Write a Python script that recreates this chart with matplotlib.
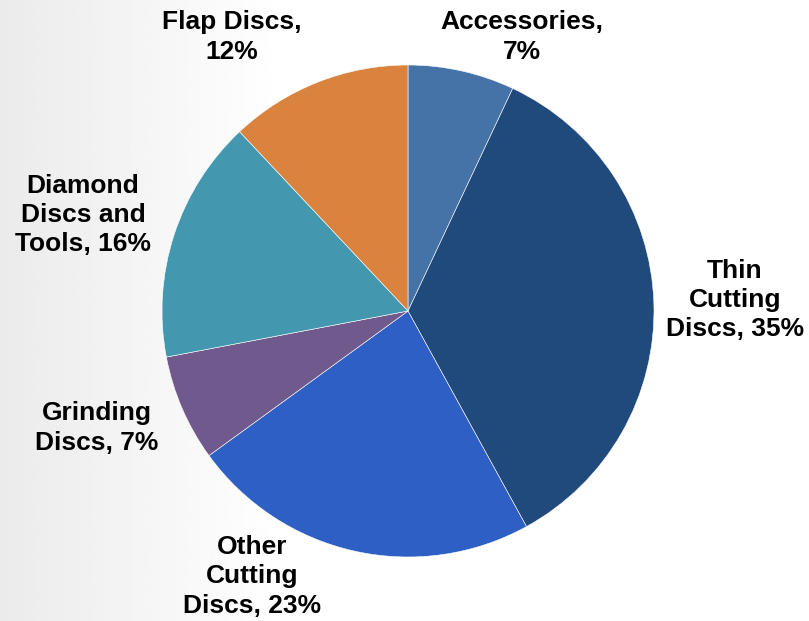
import numpy as np
import matplotlib.pyplot as plt

labels = ["Accessories,\n7%", "Thin\nCutting\nDiscs, 35%", "Other\nCutting\nDiscs, 23%",
          "Grinding\nDiscs, 7%", "Diamond\nDiscs and\nTools, 16%", "Flap Discs,\n12%"]
shares = [7, 35, 23, 7, 16, 12]
colors = ["#4573a7", "#214a7c", "#2e5fc4", "#70598c", "#4398b0", "#d9833e"]
# label spots, in pie radius units
label_xy = [(0.463, 1.114), (1.329, 0.045), (-0.634, -1.078),
            (-1.264, -0.476), (-1.321, 0.390), (-0.715, 1.114)]

W, H = 809, 621
cx, cy, r = 408, 311, 246

fig = plt.figure(figsize=(W / 100, H / 100), dpi=100)
ax = fig.add_axes([0, 0, 1, 1])

# soft grey fade on the left side
grad = np.clip(1 - np.linspace(0, 1, 400) / 0.35, 0, 1)
shade = 1 - 0.08 * grad
bg = np.tile(shade, (10, 1))
ax.imshow(bg, cmap="gray", vmin=0, vmax=1, aspect="auto",
          extent=(-cx / r, (W - cx) / r, -(H - cy) / r, cy / r), zorder=0)

ax.pie(shares, colors=colors, startangle=90, counterclock=False, radius=1,
       wedgeprops=dict(edgecolor="white", linewidth=0.4))

for lab, (x, y) in zip(labels, label_xy):
    ax.text(x, y, lab, ha="center", va="center", fontsize=19, fontweight="bold",
            family=["Liberation Sans", "DejaVu Sans"], linespacing=1.28)

ax.set_xlim(-cx / r, (W - cx) / r)
ax.set_ylim(-(H - cy) / r, cy / r)
ax.set_aspect("equal")
ax.axis("off")

fig.savefig("out.png", dpi=100)
